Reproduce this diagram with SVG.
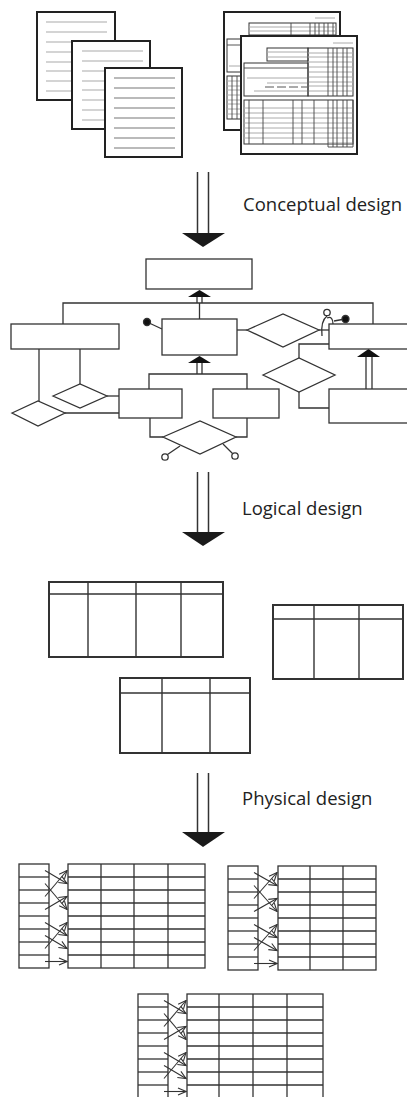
<svg xmlns="http://www.w3.org/2000/svg" width="407" height="1097" viewBox="0 0 407 1097">
<style>
.doc{fill:#fff;stroke:#222;stroke-width:2}
.dl{stroke:#aaa;stroke-width:1.2}
.dl3{stroke:#777;stroke-width:1.2}
.fd{fill:none;stroke:#333;stroke-width:1}
.fg{stroke:#aaa;stroke-width:1}
.fk{stroke:#444;stroke-width:0.9}
.er{fill:#fff;stroke:#333;stroke-width:1.3}
.ln{fill:none;stroke:#333;stroke-width:1.3}
.tri{fill:#111}
.tbl{fill:#fff;stroke:#333;stroke-width:2}
.tl{stroke:#333;stroke-width:1.4}
.pt{fill:#fff;stroke:#333;stroke-width:1.3}
.pl{stroke:#333;stroke-width:1.3}
.arr{stroke:#333;stroke-width:1.1;fill:none;marker-end:url(#v)}
.shaft{stroke:#333;stroke-width:1.5}
.head{fill:#1a1a1a}
text{font-family:"Open Sans",sans-serif;font-size:18.5px;fill:#222}
</style>
<defs>
<marker id="v" markerUnits="userSpaceOnUse" markerWidth="10" markerHeight="10" viewBox="0 0 10 10" refX="9" refY="5" orient="auto">
<path d="M1,1.5 L9,5 L1,8.5" fill="none" stroke="#333" stroke-width="1.1"/>
</marker>
</defs>
<rect width="407" height="1097" fill="#fff"/>

<!-- Documents -->
<g id="doc1">
<rect class="doc" x="37" y="12" width="78" height="88"/>
<g class="dl"><line x1="46" y1="22" x2="107" y2="22"/><line x1="46" y1="32" x2="107" y2="32"/><line x1="46" y1="42" x2="107" y2="42"/><line x1="46" y1="52" x2="107" y2="52"/><line x1="46" y1="62" x2="107" y2="62"/><line x1="46" y1="71" x2="107" y2="71"/><line x1="46" y1="81" x2="107" y2="81"/><line x1="46" y1="91" x2="107" y2="91"/></g>
</g>
<g id="doc2">
<rect class="doc" x="72" y="41" width="78" height="88"/>
<g class="dl"><line x1="82" y1="51" x2="143" y2="51"/><line x1="82" y1="61" x2="143" y2="61"/><line x1="82" y1="71" x2="143" y2="71"/><line x1="82" y1="81" x2="143" y2="81"/><line x1="82" y1="90" x2="143" y2="90"/><line x1="82" y1="100" x2="143" y2="100"/><line x1="82" y1="110" x2="143" y2="110"/><line x1="82" y1="120" x2="143" y2="120"/></g>
</g>
<g id="doc3">
<rect class="doc" x="105" y="68" width="77" height="89"/>
<g class="dl3"><line x1="114" y1="78" x2="175" y2="78"/><line x1="114" y1="88" x2="175" y2="88"/><line x1="114" y1="98" x2="175" y2="98"/><line x1="114" y1="108" x2="175" y2="108"/><line x1="114" y1="118" x2="175" y2="118"/><line x1="114" y1="128" x2="175" y2="128"/><line x1="114" y1="138" x2="175" y2="138"/><line x1="114" y1="148" x2="175" y2="148"/></g>
</g>

<!-- Forms -->
<g id="form1">
<rect class="doc" x="224" y="12" width="116" height="118"/>
<line class="fg" x1="315" y1="18" x2="335" y2="18"/>
<rect class="fd" x="249" y="23" width="87" height="12"/>
<g class="fg"><line x1="249" y1="27" x2="336" y2="27"/><line x1="249" y1="31" x2="336" y2="31"/></g>
<g class="fk"><line x1="291" y1="23" x2="291" y2="35"/><line x1="310" y1="23" x2="310" y2="35"/><line x1="315" y1="23" x2="315" y2="35"/><line x1="319" y1="23" x2="319" y2="35"/><line x1="324" y1="23" x2="324" y2="35"/><line x1="328" y1="23" x2="328" y2="35"/><line x1="333" y1="23" x2="333" y2="35"/></g>
<rect class="fd" x="227" y="39" width="40" height="33"/>
<line class="fk" x1="227" y1="45" x2="267" y2="45"/>
<line class="fg" x1="229" y1="66" x2="265" y2="66"/>
<rect class="fd" x="227" y="76" width="40" height="43"/>
<g class="fg"><line x1="227" y1="81" x2="267" y2="81"/><line x1="227" y1="86" x2="267" y2="86"/><line x1="227" y1="90" x2="267" y2="90"/><line x1="227" y1="95" x2="267" y2="95"/><line x1="227" y1="100" x2="267" y2="100"/><line x1="227" y1="104" x2="267" y2="104"/><line x1="227" y1="109" x2="267" y2="109"/><line x1="227" y1="114" x2="267" y2="114"/></g>
<g class="fk"><line x1="232" y1="76" x2="232" y2="119"/><line x1="237" y1="76" x2="237" y2="119"/></g>
</g>
<g id="form2">
<rect class="doc" x="241" y="36" width="116" height="118"/>
<line class="fg" x1="333" y1="43" x2="353" y2="43"/>
<rect class="fd" x="267" y="48" width="41" height="13"/>
<g class="fg"><line x1="267" y1="52" x2="308" y2="52"/><line x1="267" y1="57" x2="308" y2="57"/></g>
<rect class="fd" x="308" y="48" width="45" height="48"/>
<g class="fg"><line x1="308" y1="53" x2="353" y2="53"/><line x1="308" y1="57" x2="353" y2="57"/><line x1="308" y1="62" x2="353" y2="62"/><line x1="308" y1="67" x2="353" y2="67"/><line x1="308" y1="72" x2="353" y2="72"/><line x1="308" y1="77" x2="353" y2="77"/><line x1="308" y1="82" x2="353" y2="82"/><line x1="308" y1="86" x2="353" y2="86"/><line x1="308" y1="91" x2="353" y2="91"/></g>
<g class="fk"><line x1="328" y1="48" x2="328" y2="96"/><line x1="333" y1="48" x2="333" y2="96"/><line x1="337" y1="48" x2="337" y2="96"/><line x1="343" y1="48" x2="343" y2="96"/><line x1="347" y1="48" x2="347" y2="96"/></g>
<rect class="fd" x="244" y="63" width="64" height="33"/>
<line class="fk" x1="244" y1="68" x2="308" y2="68"/>
<g class="fg"><line x1="247" y1="78" x2="307" y2="78"/><line x1="267" y1="83" x2="307" y2="83"/><line x1="254" y1="91" x2="307" y2="91"/></g>
<line class="fk" x1="265" y1="87" x2="307" y2="87" stroke-dasharray="9,3"/>
<rect class="fd" x="244" y="100" width="109" height="44"/>
<g class="fg"><line x1="244" y1="108" x2="353" y2="108"/><line x1="244" y1="113" x2="353" y2="113"/><line x1="244" y1="118" x2="353" y2="118"/><line x1="244" y1="123" x2="353" y2="123"/><line x1="244" y1="128" x2="353" y2="128"/><line x1="244" y1="133" x2="353" y2="133"/><line x1="244" y1="138" x2="353" y2="138"/><line x1="328" y1="143" x2="353" y2="143"/></g>
<g class="fk"><line x1="249" y1="100" x2="249" y2="144"/><line x1="263" y1="100" x2="263" y2="144"/><line x1="293" y1="100" x2="293" y2="144"/><line x1="302" y1="100" x2="302" y2="144"/><line x1="314" y1="100" x2="314" y2="144"/><line x1="328" y1="100" x2="328" y2="147"/><line x1="333" y1="100" x2="333" y2="147"/><line x1="337" y1="100" x2="337" y2="147"/><line x1="343" y1="100" x2="343" y2="147"/><line x1="347" y1="100" x2="347" y2="147"/><line x1="353" y1="100" x2="353" y2="147"/><line x1="328" y1="147" x2="353" y2="147"/></g>
</g>

<!-- Step arrows -->
<g id="step-conceptual">
<line class="shaft" x1="197.5" y1="172" x2="197.5" y2="233"/><line class="shaft" x1="208.5" y1="172" x2="208.5" y2="233"/>
<polygon class="head" points="182,233 225,233 203,247"/>
<text x="243" y="211">Conceptual design</text>
</g>
<g id="step-logical">
<line class="shaft" x1="197.5" y1="472" x2="197.5" y2="532"/><line class="shaft" x1="208.5" y1="472" x2="208.5" y2="532"/>
<polygon class="head" points="182,532 225,532 203,546"/>
<text x="242" y="515">Logical design</text>
</g>
<g id="step-physical">
<line class="shaft" x1="197.5" y1="773" x2="197.5" y2="832"/><line class="shaft" x1="208.5" y1="773" x2="208.5" y2="832"/>
<polygon class="head" points="182,832 225,832 203,847"/>
<text x="242" y="805">Physical design</text>
</g>

<!-- ER diagram connectors -->
<g id="er-connectors" class="ln">
<line x1="197" y1="297" x2="197" y2="303"/><line x1="202" y1="297" x2="202" y2="303"/>
<line x1="199.5" y1="303" x2="199.5" y2="319"/>
<polyline points="63,324 63,303 373,303 373,324"/>
<line x1="147" y1="322" x2="162" y2="329"/>
<line x1="237" y1="330" x2="247" y2="330"/>
<line x1="319" y1="330" x2="329" y2="330"/>
<path d="M322,336 C321,326 323,319 327,316"/>
<path d="M327,318 C331,316 333,319 333,324"/>
<line x1="345" y1="319" x2="334" y2="321"/>
<polyline points="329,344 299,344 299,358"/>
<polyline points="299,392 299,408 329,408"/>
<line x1="366" y1="357" x2="366" y2="389"/><line x1="372" y1="357" x2="372" y2="389"/>
<line x1="197" y1="363" x2="197" y2="374"/><line x1="202" y1="363" x2="202" y2="374"/>
<polyline points="149,389 149,374 247,374 247,389"/>
<line x1="107" y1="396" x2="119" y2="396"/>
<line x1="80" y1="349" x2="80" y2="384"/>
<line x1="65" y1="413" x2="119" y2="413"/>
<line x1="39" y1="349" x2="39" y2="401"/>
<polyline points="150,418 150,437 163,437"/>
<polyline points="247,418 247,437 236,437"/>
<line x1="167.5" y1="454.5" x2="180" y2="446"/>
<line x1="232.5" y1="453.5" x2="223" y2="444"/>
<circle cx="147" cy="322" r="3.5" fill="#111"/>
<circle cx="345.5" cy="319" r="3.5" fill="#111"/>
<circle cx="327" cy="312.5" r="3.2" fill="#fff"/>
<circle cx="165" cy="457" r="3.2" fill="#fff"/>
<circle cx="235" cy="456" r="3.2" fill="#fff"/>
<polygon class="tri" stroke="none" points="199.5,290 188,297 211,297"/>
<polygon class="tri" stroke="none" points="199.5,356 188,363 211,363"/>
<polygon class="tri" stroke="none" points="368.5,349 357,357 380,357"/>
</g>

<!-- ER nodes -->
<g id="e-top"><rect class="er" x="146" y="259" width="106" height="30"/></g>
<g id="e-left"><rect class="er" x="11" y="324" width="108" height="25"/></g>
<g id="e-mid"><rect class="er" x="162" y="319" width="75" height="36"/></g>
<g id="e-right"><rect class="er" x="329" y="324" width="100" height="25"/></g>
<g id="e-right-low"><rect class="er" x="329" y="389" width="100" height="34"/></g>
<g id="e-ll"><rect class="er" x="119" y="389" width="63" height="29"/></g>
<g id="e-lr"><rect class="er" x="213" y="389" width="66" height="29"/></g>
<g id="r-mid"><polygon class="er" points="247,330 283,314 319,330 283,347"/></g>
<g id="r-right"><polygon class="er" points="263,375 299,358 335,375 299,392"/></g>
<g id="r-a"><polygon class="er" points="53,396 80,384 107,396 80,408"/></g>
<g id="r-b"><polygon class="er" points="12,413 38,401 65,413 38,426"/></g>
<g id="r-bottom"><polygon class="er" points="163,437 200,421 236,437 200,454"/></g>

<!-- Logical tables -->
<g id="t1">
<rect class="tbl" x="49" y="582" width="174" height="75"/>
<line class="tl" x1="49" y1="594" x2="223" y2="594"/>
<line class="tl" x1="88" y1="582" x2="88" y2="657"/><line class="tl" x1="136" y1="582" x2="136" y2="657"/><line class="tl" x1="181" y1="582" x2="181" y2="657"/>
</g>
<g id="t2">
<rect class="tbl" x="273" y="605" width="130" height="74"/>
<line class="tl" x1="273" y1="619" x2="403" y2="619"/>
<line class="tl" x1="314" y1="605" x2="314" y2="679"/><line class="tl" x1="359" y1="605" x2="359" y2="679"/>
</g>
<g id="t3">
<rect class="tbl" x="120" y="678" width="130" height="75"/>
<line class="tl" x1="120" y1="693" x2="250" y2="693"/>
<line class="tl" x1="162" y1="678" x2="162" y2="753"/><line class="tl" x1="210" y1="678" x2="210" y2="753"/>
</g>

<!-- Physical tables -->
<g id="p1">
<rect class="pt" x="19" y="864" width="30" height="104"/>
<rect class="pt" x="68" y="864" width="137" height="104"/>
<g class="pl">
<line x1="19" y1="877" x2="49" y2="877"/><line x1="19" y1="890" x2="49" y2="890"/><line x1="19" y1="903" x2="49" y2="903"/><line x1="19" y1="916" x2="49" y2="916"/><line x1="19" y1="929" x2="49" y2="929"/><line x1="19" y1="942" x2="49" y2="942"/><line x1="19" y1="955" x2="49" y2="955"/>
<line x1="68" y1="877" x2="205" y2="877"/><line x1="68" y1="890" x2="205" y2="890"/><line x1="68" y1="903" x2="205" y2="903"/><line x1="68" y1="916" x2="205" y2="916"/><line x1="68" y1="929" x2="205" y2="929"/><line x1="68" y1="942" x2="205" y2="942"/><line x1="68" y1="955" x2="205" y2="955"/>
<line x1="101" y1="864" x2="101" y2="968"/><line x1="134" y1="864" x2="134" y2="968"/><line x1="168" y1="864" x2="168" y2="968"/>
</g>
<g class="arr">
<line x1="45" y1="870.5" x2="67" y2="883.5"/><line x1="45" y1="896.5" x2="67" y2="870.5"/><line x1="45" y1="883.5" x2="67" y2="909.5"/><line x1="45" y1="909.5" x2="67" y2="896.5"/>
<line x1="45" y1="922.5" x2="67" y2="935.5"/><line x1="45" y1="948.5" x2="67" y2="922.5"/><line x1="45" y1="935.5" x2="67" y2="948.5"/><line x1="45" y1="961.5" x2="67" y2="961.5"/>
</g>
</g>
<g id="p2">
<rect class="pt" x="228" y="866" width="30" height="104"/>
<rect class="pt" x="278" y="866" width="98" height="104"/>
<g class="pl">
<line x1="228" y1="879" x2="258" y2="879"/><line x1="228" y1="892" x2="258" y2="892"/><line x1="228" y1="905" x2="258" y2="905"/><line x1="228" y1="918" x2="258" y2="918"/><line x1="228" y1="931" x2="258" y2="931"/><line x1="228" y1="944" x2="258" y2="944"/><line x1="228" y1="957" x2="258" y2="957"/>
<line x1="278" y1="879" x2="376" y2="879"/><line x1="278" y1="892" x2="376" y2="892"/><line x1="278" y1="905" x2="376" y2="905"/><line x1="278" y1="918" x2="376" y2="918"/><line x1="278" y1="931" x2="376" y2="931"/><line x1="278" y1="944" x2="376" y2="944"/><line x1="278" y1="957" x2="376" y2="957"/>
<line x1="310" y1="866" x2="310" y2="970"/><line x1="343" y1="866" x2="343" y2="970"/>
</g>
<g class="arr">
<line x1="254" y1="872.5" x2="277" y2="885.5"/><line x1="254" y1="898.5" x2="277" y2="872.5"/><line x1="254" y1="885.5" x2="277" y2="911.5"/><line x1="254" y1="911.5" x2="277" y2="898.5"/>
<line x1="254" y1="924.5" x2="277" y2="937.5"/><line x1="254" y1="950.5" x2="277" y2="924.5"/><line x1="254" y1="937.5" x2="277" y2="950.5"/><line x1="254" y1="963.5" x2="277" y2="963.5"/>
</g>
</g>
<g id="p3">
<rect class="pt" x="138" y="994" width="30" height="104"/>
<rect class="pt" x="187" y="994" width="136" height="104"/>
<g class="pl">
<line x1="138" y1="1007" x2="168" y2="1007"/><line x1="138" y1="1020" x2="168" y2="1020"/><line x1="138" y1="1033" x2="168" y2="1033"/><line x1="138" y1="1046" x2="168" y2="1046"/><line x1="138" y1="1059" x2="168" y2="1059"/><line x1="138" y1="1072" x2="168" y2="1072"/><line x1="138" y1="1085" x2="168" y2="1085"/>
<line x1="187" y1="1007" x2="323" y2="1007"/><line x1="187" y1="1020" x2="323" y2="1020"/><line x1="187" y1="1033" x2="323" y2="1033"/><line x1="187" y1="1046" x2="323" y2="1046"/><line x1="187" y1="1059" x2="323" y2="1059"/><line x1="187" y1="1072" x2="323" y2="1072"/><line x1="187" y1="1085" x2="323" y2="1085"/>
<line x1="219" y1="994" x2="219" y2="1098"/><line x1="253" y1="994" x2="253" y2="1098"/><line x1="287" y1="994" x2="287" y2="1098"/>
</g>
<g class="arr">
<line x1="164" y1="1000.5" x2="186" y2="1013.5"/><line x1="164" y1="1026.5" x2="186" y2="1000.5"/><line x1="164" y1="1013.5" x2="186" y2="1039.5"/><line x1="164" y1="1039.5" x2="186" y2="1026.5"/>
<line x1="164" y1="1052.5" x2="186" y2="1065.5"/><line x1="164" y1="1078.5" x2="186" y2="1052.5"/><line x1="164" y1="1065.5" x2="186" y2="1078.5"/><line x1="164" y1="1091.5" x2="186" y2="1091.5"/>
</g>
</g>
</svg>
